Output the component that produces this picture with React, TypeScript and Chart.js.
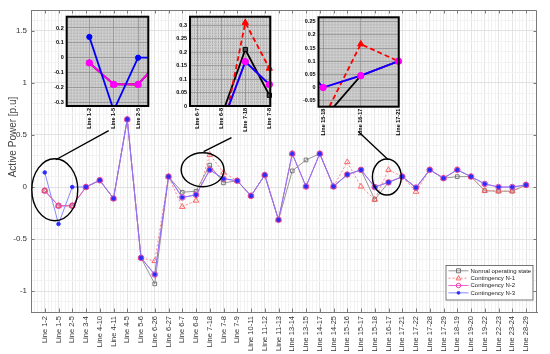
import React, { useEffect, useRef } from 'react';
import { Chart, registerables } from 'chart.js';
Chart.register(...registerables);

// ---------- data ----------
const categories = [
  'Line 1-2', 'Line 1-5', 'Line 2-5', 'Line 3-4', 'Line 4-10', 'Line 4-11', 'Line 4-5', 'Line 5-6',
  'Line 6-26', 'Line 6-27', 'Line 6-7', 'Line 6-8', 'Line 7-18', 'Line 7-8', 'Line 7-9', 'Line 10-11',
  'Line 11-12', 'Line 11-13', 'Line 13-14', 'Line 13-15', 'Line 14-17', 'Line 14-25', 'Line 15-16',
  'Line 15-17', 'Line 15-18', 'Line 16-17', 'Line 17-21', 'Line 17-22', 'Line 17-28', 'Line 17-29',
  'Line 18-19', 'Line 19-20', 'Line 19-22', 'Line 22-23', 'Line 23-24', 'Line 28-29',
];
const normalState = [
  -0.035, -0.18, -0.18, 0, 0.065, -0.11, 0.65, -0.68, -0.93, 0.1, -0.05, -0.04, 0.21, 0.04, 0.06, -0.085,
  0.115, -0.315, 0.155, 0.26, 0.32, 0.005, 0.12, 0.165, -0.12, 0.045, 0.1, -0.01, 0.165, 0.085,
  0.1, 0.1, -0.035, -0.04, -0.04, 0.02,
];
const contingencyN1 = [
  -0.035, -0.18, -0.18, 0, 0.065, -0.11, 0.65, -0.68, -0.71, 0.1, -0.19, -0.13, 0.31, 0.14, 0.06, -0.085,
  0.115, -0.315, 0.32, 0.005, 0.32, 0.005, 0.24, 0.005, -0.12, 0.165, 0.1, -0.045, 0.165, 0.085,
  0.165, 0.1, -0.035, -0.04, -0.04, 0.02,
];
const contingencyN2 = [
  -0.035, -0.18, -0.18, 0, 0.065, -0.11, 0.65, -0.68, -0.84, 0.1, -0.1, -0.075, 0.165, 0.08, 0.06, -0.085,
  0.115, -0.315, 0.32, 0.005, 0.32, 0.005, 0.12, 0.165, 0.0, 0.045, 0.1, -0.005, 0.165, 0.085,
  0.165, 0.1, 0.03, 0, 0, 0.02,
];
const contingencyN3 = [
  0.14, -0.355, 0.0, 0, 0.065, -0.11, 0.65, -0.68, -0.84, 0.1, -0.1, -0.075, 0.165, 0.08, 0.06, -0.085,
  0.115, -0.315, 0.32, 0.005, 0.32, 0.005, 0.12, 0.165, 0.0, 0.045, 0.1, -0.005, 0.165, 0.085,
  0.165, 0.1, 0.03, 0, 0, 0.02,
];
const seriesNames = ['Normal operating state', 'Contingency N-1', 'Contingency N-2', 'Contingency N-3'];
const yMajorTicks = [-1, -0.5, 0, 0.5, 1, 1.5];
const yTitle = 'Active Power [p.u]';

// callout ellipses [cx, cy, rx, ry] in data units and connector lines [x1, y1, x2, y2]
const calloutEllipses = [
  [1.73, -0.026, 1.67, 0.298],
  [12.48, 0.166, 1.56, 0.163],
  [25.88, 0.096, 1.05, 0.173],
];
const calloutLines = [
  [1.8, 0.262, 5.65, 0.541],
  [12.55, 0.34, 14.58, 0.474],
  [25.98, 0.263, 23.8, 0.534],
];

// insets: plot-area pixel box and data window
const insetBoxes = [
  { left: 66.7, right: 148.3, top: 16.7, bottom: 106, xMin: 0.07, xMax: 3.42, yMin: -0.325, yMax: 0.276, yStep: 0.1 },
  { left: 190, right: 271.7, top: 16.7, bottom: 106, xMin: 10.7, xMax: 14.04, yMin: 0, yMax: 0.332, yStep: 0.05 },
  { left: 318.5, right: 401, top: 17.3, bottom: 106.7, xMin: 24.876, xMax: 27.01, yMin: -0.073, yMax: 0.267, yStep: 0.05 },
];

const FONT = "'Liberation Sans', Arial, sans-serif";
const toXY = (arr: number[]) => arr.map((v, i) => ({ x: i + 1, y: v }));
const near = (a: number, b: number) => Math.abs(a - b) < 1e-6;

const mainStyles = [
  { line: '#8a8a8a', point: '#6a6a6a', style: 'rect', radius: 2.6, fill: 'rgba(255,255,255,0)', dash: [] as number[] },
  { line: '#ff7a7a', point: '#ff5a5a', style: 'triangle', radius: 3.2, fill: 'rgba(255,255,255,0)', dash: [2, 2] },
  { line: '#f050d0', point: '#e8309a', style: 'circle', radius: 2.8, fill: 'rgba(255,255,255,0)', dash: [] as number[] },
  { line: '#7a7aff', point: '#2a2aff', style: 'circle', radius: 1.8, fill: '#2a2aff', dash: [] as number[] },
];

const decorPlugin = {
  id: 'decor',
  afterDraw(chart: any) {
    const { ctx, chartArea: a } = chart;
    const xs = chart.scales.x;
    const ys = chart.scales.y;
    ctx.save();
    // box
    ctx.strokeStyle = '#7a7a7a';
    ctx.lineWidth = 1;
    ctx.beginPath();
    ctx.moveTo(a.left, a.top + 0.5);
    ctx.lineTo(a.right - 0.5, a.top + 0.5);
    ctx.lineTo(a.right - 0.5, a.bottom);
    ctx.stroke();
    // tick marks
    ctx.beginPath();
    for (let i = 1; i <= categories.length; i++) {
      const px = Math.round(xs.getPixelForValue(i)) + 0.5;
      ctx.moveTo(px, a.bottom);
      ctx.lineTo(px, a.bottom - 3.5);
      ctx.moveTo(px, a.top);
      ctx.lineTo(px, a.top + 3.5);
    }
    for (const t of yMajorTicks) {
      const py = Math.round(ys.getPixelForValue(t)) + 0.5;
      ctx.moveTo(a.left, py);
      ctx.lineTo(a.left + 3.5, py);
      ctx.moveTo(a.right, py);
      ctx.lineTo(a.right - 3.5, py);
    }
    ctx.stroke();
    // callouts
    ctx.strokeStyle = '#000';
    ctx.lineWidth = 1.4;
    for (const [cx, cy, rx, ry] of calloutEllipses) {
      const px = xs.getPixelForValue(cx);
      const py = ys.getPixelForValue(cy);
      const rpx = Math.abs(xs.getPixelForValue(cx + rx) - px);
      const rpy = Math.abs(ys.getPixelForValue(cy + ry) - py);
      ctx.beginPath();
      ctx.ellipse(px, py, rpx, rpy, 0, 0, Math.PI * 2);
      ctx.stroke();
    }
    for (const [x1, y1, x2, y2] of calloutLines) {
      ctx.beginPath();
      ctx.moveTo(xs.getPixelForValue(x1), ys.getPixelForValue(y1));
      ctx.lineTo(xs.getPixelForValue(x2), ys.getPixelForValue(y2));
      ctx.stroke();
    }
    // legend
    const lx = 445.5, ly = 265, lw = 87, lh = 34.5;
    ctx.fillStyle = '#fff';
    ctx.fillRect(lx, ly, lw, lh);
    ctx.strokeStyle = '#555';
    ctx.lineWidth = 0.8;
    ctx.strokeRect(lx + 0.5, ly + 0.5, lw, lh);
    ctx.font = `6px ${FONT}`;
    ctx.textBaseline = 'middle';
    ctx.textAlign = 'left';
    seriesNames.forEach((name, i) => {
      const st = mainStyles[i];
      const y = ly + 5.8 + i * 7.35;
      ctx.strokeStyle = st.line;
      ctx.lineWidth = 0.9;
      ctx.setLineDash(st.dash);
      ctx.beginPath();
      ctx.moveTo(lx + 3, y);
      ctx.lineTo(lx + 23, y);
      ctx.stroke();
      ctx.setLineDash([]);
      const mx = lx + 13;
      ctx.strokeStyle = st.point;
      ctx.fillStyle = st.fill;
      ctx.beginPath();
      if (st.style === 'rect') ctx.rect(mx - 2, y - 2, 4, 4);
      else if (st.style === 'triangle') { ctx.moveTo(mx, y - 2.6); ctx.lineTo(mx + 2.4, y + 1.8); ctx.lineTo(mx - 2.4, y + 1.8); ctx.closePath(); }
      else ctx.arc(mx, y, st.radius * 0.8, 0, Math.PI * 2);
      ctx.fill();
      ctx.stroke();
      ctx.fillStyle = '#222';
      ctx.fillText(name, lx + 25, y + 0.3);
    });
    // y title
    ctx.translate(13, 137);
    ctx.rotate(-Math.PI / 2);
    ctx.textAlign = 'center';
    ctx.fillStyle = '#444';
    ctx.font = `10px ${FONT}`;
    ctx.fillText(yTitle, 0, 0);
    ctx.restore();
  },
};

function MainChart() {
  const ref = useRef<HTMLCanvasElement>(null);
  useEffect(() => {
    const series = [normalState, contingencyN1, contingencyN2, contingencyN3];
    // Chart.js paints the first dataset on top, so list top-most (N-3) first
    const order = [3, 2, 1, 0];
    const chart = new Chart(ref.current as HTMLCanvasElement, {
      type: 'line',
      data: {
        datasets: order.map((i) => ({
          label: seriesNames[i],
          data: toXY(series[i]),
          borderColor: mainStyles[i].line,
          borderWidth: 0.9,
          borderDash: mainStyles[i].dash,
          pointStyle: mainStyles[i].style as any,
          pointRadius: mainStyles[i].radius,
          pointBorderColor: mainStyles[i].point,
          pointBackgroundColor: mainStyles[i].fill,
          pointBorderWidth: 0.9,
          tension: 0,
          fill: false,
        })),
      },
      options: {
        responsive: false,
        animation: false,
        events: [],
        layout: { padding: { left: 0, top: 10, right: 13, bottom: 0 }, autoPadding: false } as any,
        plugins: { legend: { display: false }, tooltip: { enabled: false } },
        scales: {
          x: {
            type: 'linear',
            min: 0,
            max: 36.8,
            afterFit: (s: any) => { s.height = 42; },
            border: { color: '#7a7a7a', width: 1 },
            grid: {
              drawTicks: false,
              lineWidth: 1,
              color: (c: any) => {
                const v = c.tick ? c.tick.value : 0;
                return near(v, Math.round(v)) ? '#e4e4e4' : '#f3f3f3';
              },
            },
            ticks: {
              stepSize: 0.25,
              includeBounds: false,
              autoSkip: false,
              minRotation: 90,
              maxRotation: 90,
              padding: 4,
              color: '#333',
              font: { family: FONT, size: 7.5 },
              callback: (value: any) => {
                const v = Number(value);
                const r = Math.round(v);
                return near(v, r) && r >= 1 && r <= categories.length ? categories[r - 1] : '';
              },
            },
          },
          y: {
            type: 'linear',
            min: -1.2,
            max: 1.7,
            afterFit: (s: any) => { s.width = 31; },
            border: { color: '#7a7a7a', width: 1 },
            grid: {
              drawTicks: false,
              lineWidth: 1,
              color: (c: any) => {
                const v = c.tick ? c.tick.value : 0;
                return yMajorTicks.some((t) => near(t, v)) ? '#e2e2e2' : '#f2f2f2';
              },
            },
            ticks: {
              stepSize: 0.1,
              autoSkip: false,
              padding: 4,
              color: '#333',
              font: { family: FONT, size: 8 },
              callback: (value: any) => {
                const v = Number(value);
                const t = yMajorTicks.find((m) => near(m, v));
                return t === undefined ? '' : String(t);
              },
            },
          },
        },
      },
      plugins: [decorPlugin],
    });
    return () => chart.destroy();
  }, []);
  return <canvas ref={ref} width={550} height={354} style={{ position: 'absolute', left: 0, top: 0, width: 550, height: 354 }} />;
}

const insetStyles = [
  { line: '#000000', point: '#000000', fill: '#4a4a4a', style: 'rect', radius: 3, dash: [] as number[] },
  { line: '#ff0000', point: '#ff0000', fill: '#ff0000', style: 'triangle', radius: 3.6, dash: [5, 3] },
  { line: '#ff00ff', point: '#ff00ff', fill: '#ff00ff', style: 'circle', radius: 3.2, dash: [] as number[] },
  { line: '#0000ff', point: '#0000ff', fill: '#0000ff', style: 'circle', radius: 2.6, dash: [] as number[] },
];

const insetBgPlugin = {
  id: 'insetBg',
  beforeDraw(chart: any) {
    const { ctx, chartArea: a } = chart;
    ctx.save();
    ctx.fillStyle = '#d2d2d2';
    ctx.fillRect(a.left, a.top, a.right - a.left, a.bottom - a.top);
    ctx.strokeStyle = '#969696';
    ctx.lineWidth = 0.6;
    ctx.setLineDash([1, 1]);
    ctx.beginPath();
    for (let x = a.left + 1.5; x < a.right; x += 3) { ctx.moveTo(x, a.top); ctx.lineTo(x, a.bottom); }
    for (let y = a.top + 1.5; y < a.bottom; y += 3) { ctx.moveTo(a.left, y); ctx.lineTo(a.right, y); }
    ctx.stroke();
    ctx.restore();
  },
  afterDraw(chart: any) {
    const { ctx, chartArea: a } = chart;
    ctx.save();
    ctx.strokeStyle = '#000';
    ctx.lineWidth = 2;
    ctx.strokeRect(a.left, a.top, a.right - a.left, a.bottom - a.top);
    ctx.restore();
  },
};

function Inset({ box }: { box: typeof insetBoxes[number] }) {
  const ref = useRef<HTMLCanvasElement>(null);
  const canvasLeft = Math.floor(box.left - 31);
  const canvasTop = 8;
  const canvasW = Math.ceil(box.right + 6) - canvasLeft;
  const canvasH = 140;
  useEffect(() => {
    const series = [normalState, contingencyN1, contingencyN2, contingencyN3];
    const lineOrder = [0, 1, 2, 3];
    const markerOrder = [0, 1, 3, 2];
    const lineSets = lineOrder.map((i) => ({
      data: toXY(series[i]),
      borderColor: insetStyles[i].line,
      borderWidth: 1.8,
      borderDash: insetStyles[i].dash,
      pointRadius: 0,
      tension: 0,
      fill: false,
      clip: 0,
    }));
    const markerSets = markerOrder.map((i) => ({
      data: toXY(series[i]).filter((p) => p.x >= box.xMin && p.x <= box.xMax && p.y >= box.yMin && p.y <= box.yMax),
      showLine: false,
      pointStyle: insetStyles[i].style as any,
      pointRadius: insetStyles[i].radius,
      pointBorderColor: insetStyles[i].point,
      pointBackgroundColor: insetStyles[i].fill,
      pointBorderWidth: 1,
      clip: false as any,
    }));
    // first dataset is painted on top: reverse the bottom-to-top list
    const datasets = [...lineSets, ...markerSets].reverse();
    const chart = new Chart(ref.current as HTMLCanvasElement, {
      type: 'line',
      data: { datasets: datasets as any },
      options: {
        responsive: false,
        animation: false,
        events: [],
        layout: {
          padding: { left: 0, top: box.top - canvasTop, right: canvasLeft + canvasW - box.right, bottom: 0 },
          autoPadding: false,
        } as any,
        plugins: { legend: { display: false }, tooltip: { enabled: false } },
        scales: {
          x: {
            type: 'linear',
            min: box.xMin,
            max: box.xMax,
            afterFit: (s: any) => { s.height = canvasTop + canvasH - box.bottom; },
            border: { display: false },
            grid: { drawTicks: false, color: '#8c8c8c', lineWidth: 0.7 },
            ticks: {
              stepSize: 1,
              includeBounds: false,
              autoSkip: false,
              minRotation: 90,
              maxRotation: 90,
              padding: 2,
              color: '#000',
              font: { family: FONT, size: 5.5, weight: 'bold' },
              callback: (value: any) => {
                const v = Number(value);
                const r = Math.round(v);
                return near(v, r) && r >= 1 && r <= categories.length ? categories[r - 1] : '';
              },
            },
          },
          y: {
            type: 'linear',
            min: box.yMin,
            max: box.yMax,
            afterFit: (s: any) => { s.width = box.left - canvasLeft; },
            border: { display: false },
            grid: { drawTicks: false, color: '#8c8c8c', lineWidth: 0.7 },
            ticks: {
              stepSize: box.yStep,
              includeBounds: false,
              autoSkip: false,
              padding: 3,
              color: '#000',
              font: { family: FONT, size: 5.5, weight: 'bold' },
              callback: (value: any) => {
                const v = Number(value);
                const k = Math.round(v / box.yStep);
                if (!near(v, k * box.yStep)) return '';
                return String(Math.round(k * box.yStep * 1000) / 1000);
              },
            },
          },
        },
      },
      plugins: [insetBgPlugin],
    });
    return () => chart.destroy();
  }, []);
  return (
    <canvas
      ref={ref}
      width={canvasW}
      height={canvasH}
      style={{ position: 'absolute', left: canvasLeft, top: canvasTop, width: canvasW, height: canvasH }}
    />
  );
}

export default function App() {
  return (
    <div style={{ position: 'fixed', left: 0, top: 0, width: 550, height: 354, background: '#fff', overflow: 'hidden' }}>
      <MainChart />
      {insetBoxes.map((b, i) => (
        <Inset key={i} box={b} />
      ))}
    </div>
  );
}
